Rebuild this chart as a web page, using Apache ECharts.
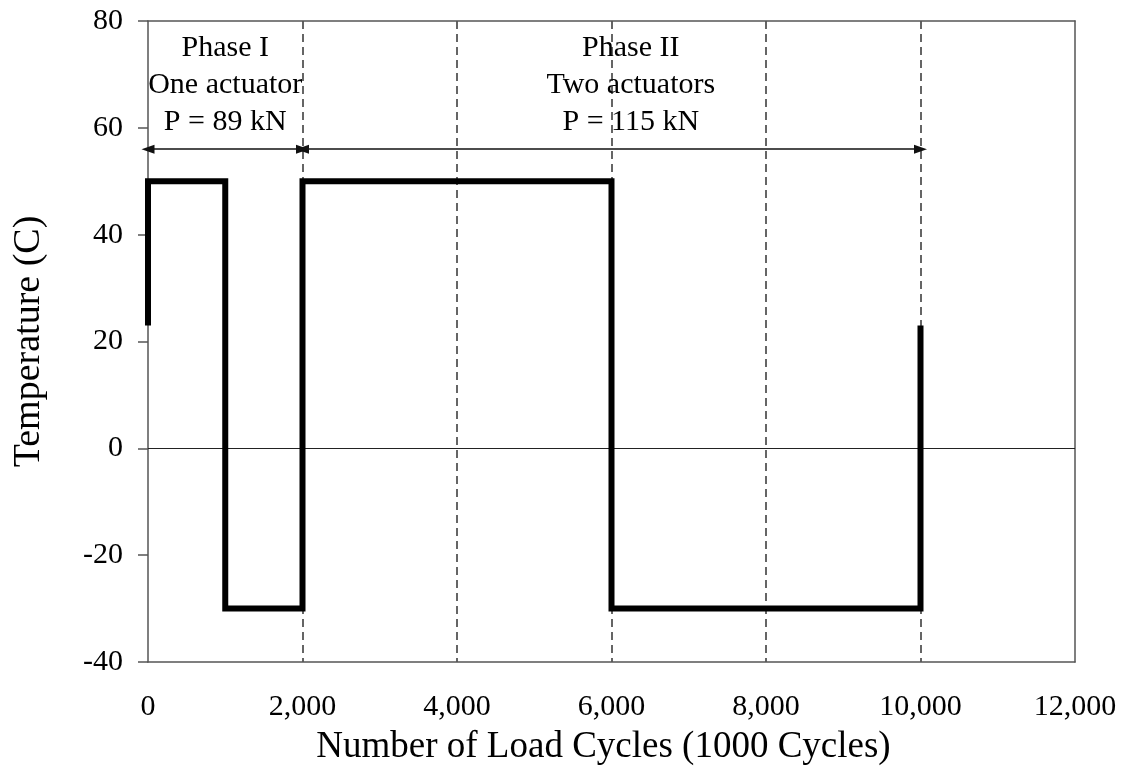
<!DOCTYPE html>
<html>
<head>
<meta charset="utf-8">
<script src="https://cdn.jsdelivr.net/npm/echarts@6/dist/echarts.min.js"></script>
<style>
  html, body { margin: 0; padding: 0; background: #fff; }
  #chart { width: 1125px; height: 774px; }
</style>
</head>
<body>
<div id="chart"></div>
<script>
// Temperature schedule over the load-cycle history (cycles in thousands, temperature in C)
const cycles = [0, 0, 1000, 1000, 2000, 2000, 6000, 6000, 10000, 10000];
const temperature = [23, 50, 50, -30, -30, 50, 50, -30, -30, 23];

// Axis ranges and tick steps
const xRange = [0, 12000];
const xStep = 2000;
const yRange = [-40, 80];
const yStep = 20;

// Loading phases: start/end cycles, arrow level and the text printed above each span
const phaseStart = [0, 2000];
const phaseEnd = [2000, 10000];
const phaseArrowLevel = [56, 56];
const phaseTextX = [1000, 6250];
const phaseTextY = [68, 68];
const phaseText = [
  'Phase I\nOne actuator\nP = 89 kN',
  'Phase II\nTwo actuators\nP = 115 kN'
];

const serif = "'Liberation Serif', 'Times New Roman', 'DejaVu Serif', serif";
const axisGrey = '#555';

const chart = echarts.init(document.getElementById('chart'), null, { renderer: 'canvas' });

const pathData = cycles.map((c, i) => [c, temperature[i]]);
const arrowData = phaseStart.map((s, i) => [
  { coord: [s, phaseArrowLevel[i]] },
  { coord: [phaseEnd[i], phaseArrowLevel[i]] }
]);
const textData = phaseText.map((t, i) => ({ value: [phaseTextX[i], phaseTextY[i]], name: t }));

chart.setOption({
  animation: false,
  backgroundColor: '#fff',
  grid: { left: 148, right: 50, top: 21, bottom: 112, containLabel: false },
  xAxis: [
    {
      type: 'value',
      min: xRange[0], max: xRange[1], interval: xStep,
      position: 'bottom',
      axisLine: { onZero: false, lineStyle: { color: axisGrey, width: 1.5 } },
      axisTick: { show: false },
      axisLabel: {
        margin: 30, color: '#000', fontFamily: serif, fontSize: 30,
        formatter: v => v.toLocaleString('en-US')
      },
      splitLine: {
        show: true, showMinLine: false, showMaxLine: false,
        lineStyle: { color: '#333', width: 1.5, type: [8, 5] }
      },
      name: 'Number of Load Cycles (1000 Cycles)',
      nameLocation: 'middle', nameGap: 67,
      nameTextStyle: { fontFamily: serif, fontSize: 37, color: '#000', padding: [0, 16, 0, 0] }
    },
    {
      type: 'value',
      min: xRange[0], max: xRange[1], interval: xStep,
      position: 'top',
      axisLine: { show: true, onZero: false, lineStyle: { color: axisGrey, width: 1.5 } },
      axisTick: { show: false }, axisLabel: { show: false }, splitLine: { show: false }
    }
  ],
  yAxis: [
    {
      type: 'value',
      min: yRange[0], max: yRange[1], interval: yStep,
      position: 'left',
      axisLine: { show: true, onZero: false, lineStyle: { color: axisGrey, width: 1.5 } },
      axisTick: { show: true, inside: false, length: 10, lineStyle: { color: axisGrey, width: 1.5 } },
      axisLabel: { margin: 25, color: '#000', fontFamily: serif, fontSize: 30 },
      splitLine: { show: false },
      name: 'Temperature (C)',
      nameLocation: 'middle', nameGap: 100,
      nameTextStyle: { fontFamily: serif, fontSize: 38, color: '#000' }
    },
    {
      type: 'value',
      min: yRange[0], max: yRange[1], interval: yStep,
      position: 'right',
      axisLine: { show: true, onZero: false, lineStyle: { color: axisGrey, width: 1.5 } },
      axisTick: { show: false }, axisLabel: { show: false }, splitLine: { show: false }
    }
  ],
  series: [
    {
      // zero reference line
      type: 'line',
      data: [],
      silent: true,
      markLine: {
        silent: true,
        animation: false,
        symbol: ['none', 'none'],
        label: { show: false },
        emphasis: { disabled: true },
        lineStyle: { color: '#222', width: 1.2, type: 'solid' },
        data: [{ yAxis: 0 }]
      }
    },
    {
      // phase span arrows
      type: 'line',
      data: [],
      silent: true,
      markLine: {
        silent: true,
        animation: false,
        symbol: ['triangle', 'triangle'],
        symbolSize: [9, 13],
        label: { show: false },
        emphasis: { disabled: true },
        lineStyle: { color: '#111', width: 1.5, type: 'solid' },
        itemStyle: { color: '#111' },
        data: arrowData
      }
    },
    {
      // temperature history
      type: 'line',
      data: pathData,
      showSymbol: false,
      symbol: 'none',
      lineStyle: { color: '#000', width: 6, cap: 'butt', join: 'miter' },
      z: 5
    },
    {
      // phase descriptions
      type: 'scatter',
      data: textData,
      symbolSize: 0,
      silent: true,
      itemStyle: { opacity: 1 },
      label: {
        show: true,
        position: 'inside',
        formatter: p => p.name,
        fontFamily: serif,
        fontSize: 30,
        lineHeight: 37,
        color: '#000',
        opacity: 1,
        textBorderWidth: 0,
        align: 'center'
      },
      z: 6
    }
  ]
});
</script>
</body>
</html>
